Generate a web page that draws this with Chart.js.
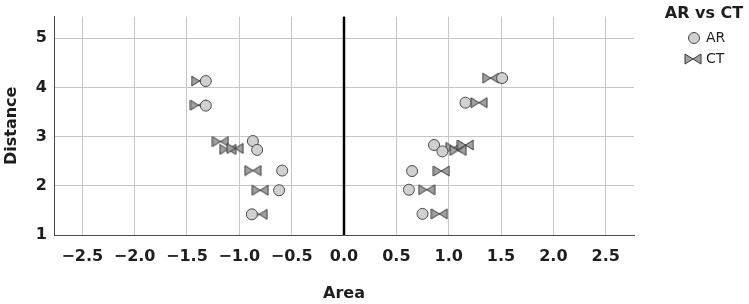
<!DOCTYPE html>
<html>
<head>
<meta charset="utf-8">
<script src="https://cdn.jsdelivr.net/npm/chart.js@4/dist/chart.umd.min.js"></script>
<style>
  html, body { margin: 0; padding: 0; background: #fff; }
  #wrap { width: 749px; height: 304px; }
</style>
</head>
<body>
<div id="wrap"><canvas id="scatterChart" width="749" height="304"></canvas></div>
<script>
"use strict";

// values
const xTickValues = [-2.5, -2.0, -1.5, -1.0, -0.5, 0.0, 0.5, 1.0, 1.5, 2.0, 2.5];
const yTickValues = [1, 2, 3, 4, 5];

const arX = [-1.32, -1.32, -0.87, -0.83, -0.59, -0.62, -0.88, 1.51, 1.16, 0.86, 0.94, 0.65, 0.62, 0.75];
const arY = [4.13, 3.63, 2.91, 2.73, 2.31, 1.91, 1.42, 4.19, 3.69, 2.83, 2.70, 2.30, 1.92, 1.43];

const ctX = [-1.38, -1.39, -1.18, -1.11, -1.04, -0.87, -0.80, -0.81, 1.40, 1.29, 1.05, 1.09, 1.16, 0.93, 0.79, 0.91];
const ctY = [4.13, 3.64, 2.90, 2.74, 2.76, 2.31, 1.91, 1.42, 4.19, 3.69, 2.78, 2.72, 2.83, 2.30, 1.92, 1.43];

const FONT = '"DejaVu Sans", sans-serif';
const TEXT = '#1e1e1e';

// bow-tie marker for CT
function makeBowtie() {
    const c = document.createElement('canvas');
    c.width = 18; c.height = 12;
    const g = c.getContext('2d');
    g.fillStyle = '#a0a0a0';
    g.strokeStyle = '#3a3a3a';
    g.lineWidth = 1;
    g.beginPath();
    g.moveTo(1, 1); g.lineTo(9, 6); g.lineTo(1, 11); g.closePath();
    g.fill(); g.stroke();
    g.beginPath();
    g.moveTo(17, 1); g.lineTo(9, 6); g.lineTo(17, 11); g.closePath();
    g.fill(); g.stroke();
    return c;
}
const bowtie = makeBowtie();

const toPoints = (xs, ys) => xs.map((x, i) => ({ x: x, y: ys[i] }));
const fmt = v => v.toFixed(1).replace('-', '\u2212');

// black reference line at Area = 0
const zeroLine = {
    id: 'zeroLine',
    beforeDatasetsDraw(chart) {
        const { ctx, chartArea, scales } = chart;
        const x = scales.x.getPixelForValue(0);
        ctx.save();
        ctx.strokeStyle = '#000';
        ctx.lineWidth = 2.5;
        ctx.beginPath();
        ctx.moveTo(x, chartArea.top);
        ctx.lineTo(x, chartArea.bottom);
        ctx.stroke();
        ctx.restore();
    }
};

// legend to the right, SPSS style
const sideLegend = {
    id: 'sideLegend',
    afterDraw(chart) {
        const ctx = chart.ctx;
        ctx.save();
        ctx.fillStyle = TEXT;
        ctx.font = `bold 16px ${FONT}`;
        ctx.textAlign = 'center';
        ctx.textBaseline = 'middle';
        ctx.fillText('AR vs CT', 704, 14);

        const ds = chart.data.datasets;
        ctx.font = `14px ${FONT}`;
        ctx.textAlign = 'left';
        // AR
        ctx.beginPath();
        ctx.arc(694, 38, 5.5, 0, Math.PI * 2);
        ctx.fillStyle = ds[0].backgroundColor;
        ctx.fill();
        ctx.strokeStyle = ds[0].borderColor;
        ctx.lineWidth = 1;
        ctx.stroke();
        ctx.fillStyle = TEXT;
        ctx.fillText(ds[0].label, 706, 38);
        // CT
        ctx.drawImage(bowtie, 693 - 9, 59 - 6);
        ctx.fillText(ds[1].label, 706, 59);
        ctx.restore();
    }
};

new Chart(document.getElementById('scatterChart'), {
    type: 'scatter',
    data: {
        datasets: [
            { label: 'AR', data: toPoints(arX, arY), pointStyle: 'circle', pointRadius: 5.5, backgroundColor: '#d0d0d0', borderColor: '#4a4a4a', borderWidth: 1 },
            { label: 'CT', data: toPoints(ctX, ctY), pointStyle: bowtie, pointRadius: 6, backgroundColor: '#a0a0a0', borderColor: '#3a3a3a' }
        ]
    },
    options: {
        responsive: false, animation: false, devicePixelRatio: 1,
        layout: { padding: { left: 0, right: 115, top: 6, bottom: 0 } },
        plugins: { legend: { display: false }, tooltip: { enabled: false } },
        scales: {
            x: {
                type: 'linear', min: -2.77, max: 2.77,
                afterBuildTicks: s => { s.ticks = xTickValues.map(v => ({ value: v })); },
                afterFit: s => { s.height = 69; },
                ticks: { callback: v => fmt(v), autoSkip: false, maxRotation: 0, padding: 12, color: TEXT, font: { family: FONT, size: 16, weight: 'bold' } },
                grid: { color: '#c6c6c6', drawTicks: false },
                border: { color: '#4a4a4a', width: 1 },
                title: { display: true, text: 'Area', color: TEXT, font: { family: FONT, size: 16, weight: 'bold' }, padding: { top: 4, bottom: 1 } }
            },
            y: {
                type: 'linear', min: 1, max: 5.44,
                afterBuildTicks: s => { s.ticks = yTickValues.map(v => ({ value: v })); },
                afterFit: s => { s.width = 54; },
                ticks: { callback: v => String(v), padding: 7, color: TEXT, font: { family: FONT, size: 16, weight: 'bold' } },
                grid: { color: '#c6c6c6', drawTicks: false },
                border: { color: '#4a4a4a', width: 1 },
                title: { display: true, text: 'Distance', color: TEXT, font: { family: FONT, size: 16, weight: 'bold' }, padding: { top: 2, bottom: 0 } }
            }
        }
    },
    plugins: [zeroLine, sideLegend]
});
</script>
</body>
</html>
